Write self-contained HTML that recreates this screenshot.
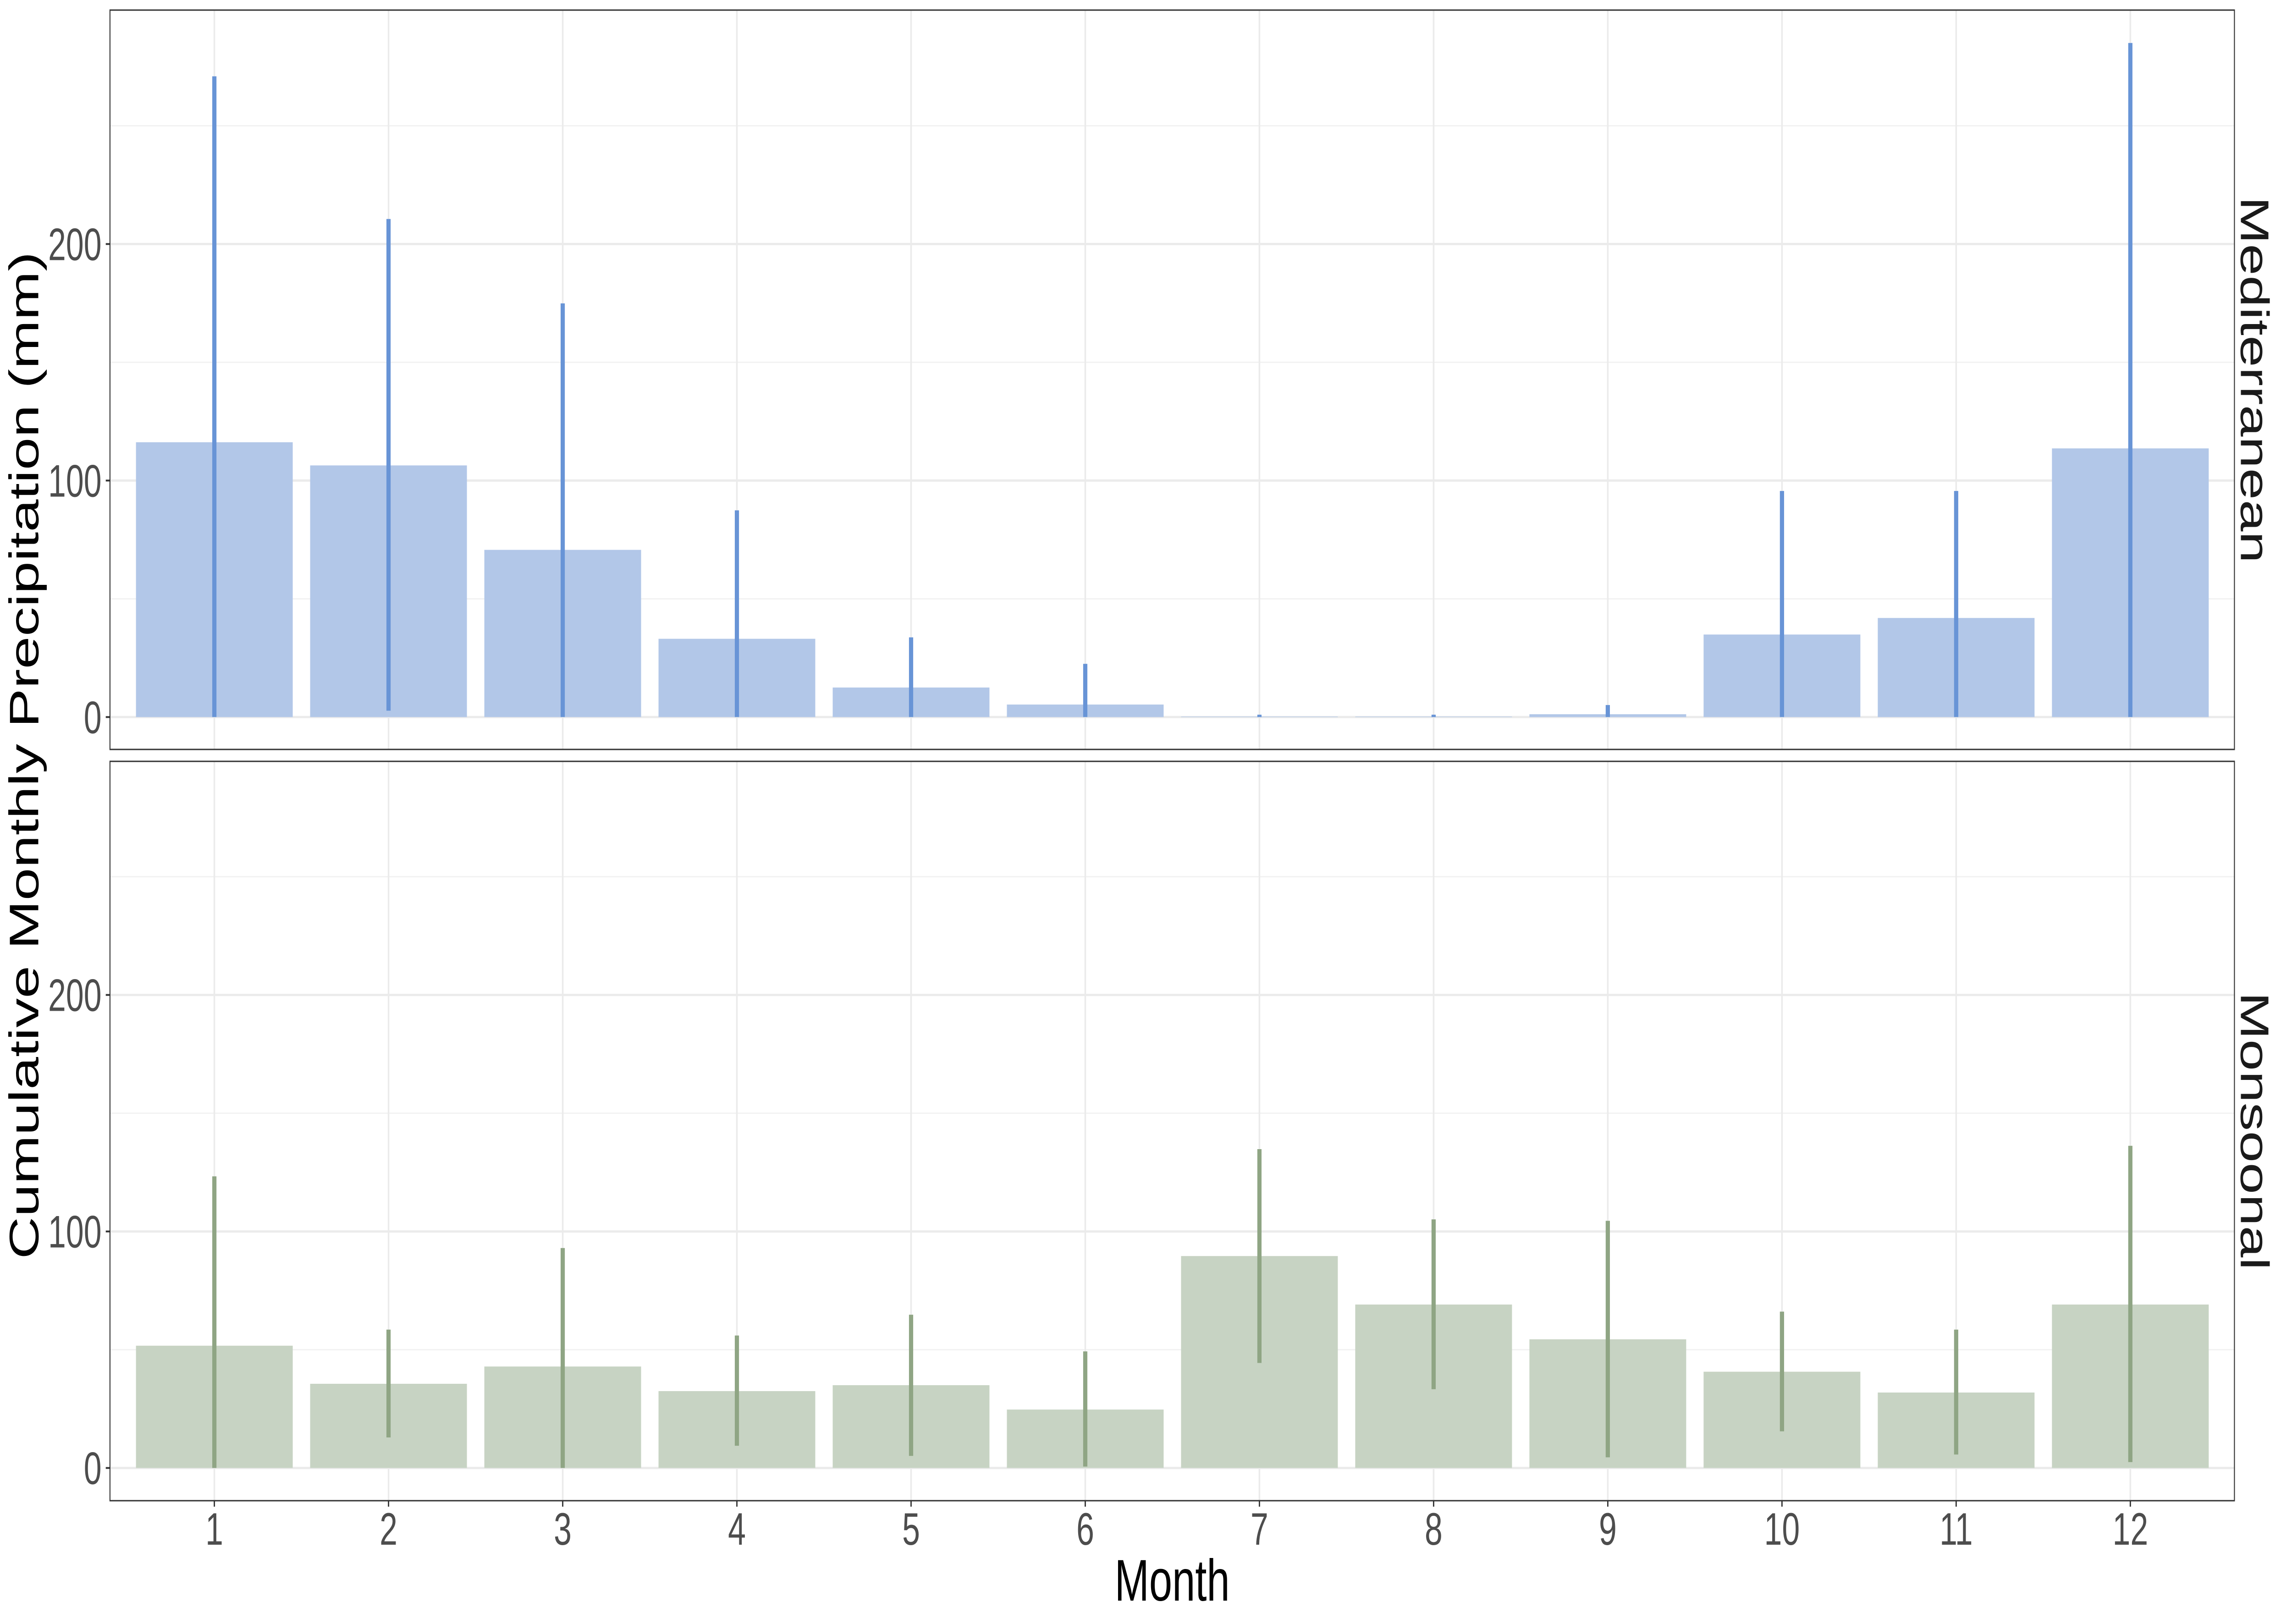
<!DOCTYPE html>
<html><head><meta charset="utf-8"><style>
html,body{margin:0;padding:0;background:#fff;overflow:hidden;width:100%;height:100%;}
svg{display:block;font-family:"Liberation Sans",Arial,sans-serif;width:100vw;height:100vh;}
</style></head><body>
<svg id="chart" viewBox="0 0 7086 3543" preserveAspectRatio="none" xmlns="http://www.w3.org/2000/svg">
<rect x="0" y="0" width="7086" height="3543" fill="#fff"/>
<g id="root"></g>
<text x="3624" y="3492" font-size="128" text-anchor="middle" fill="#000">Month</text>
<text transform="translate(118,1648) rotate(-90)" font-size="128" text-anchor="middle" fill="#000">Cumulative Monthly Precipitation (mm)</text>
</svg>
<script>
const months = [1,2,3,4,5,6,7,8,9,10,11,12];
const medMean = [116.2,106.4,70.7,33.1,12.5,5.3,0.2,0.2,1.2,34.9,41.9,113.6];
const medLow  = [0,2.7,0,0,0,0,0,0,0,0,0,0];
const medHigh = [270.9,210.6,174.9,87.4,33.7,22.5,1,1,5.1,95.6,95.6,285];
const monMean = [51.7,35.6,42.9,32.5,35.0,24.7,89.6,69.1,54.4,40.7,31.9,69.1];
const monLow  = [0,12.9,0,9.4,5.1,0.6,44.4,33.3,4.5,15.5,5.7,2.5];
const monHigh = [123.3,58.5,93,56,64.8,49.3,134.8,105.1,104.5,66.1,58.5,136.2];
const yTicks = [0,100,200];
const yMinor = [50,150,250];
const panelNames = ["Mediterranean","Monsoonal"];

const NS="http://www.w3.org/2000/svg";
const root=document.getElementById('root');
function mk(tag,attrs,parent){const e=document.createElementNS(NS,tag);for(const k in attrs)e.setAttribute(k,attrs[k]);(parent||root).appendChild(e);return e;}
const X0=340, X1=6908, step=538.5, c1=662.7;
function xs(m){return c1+(m-1)*step;}
const PX=5.16;
const panels=[
 {top:22,bot:1635,zero:1564.4,mean:medMean,low:medLow,high:medHigh,fill:"#b2c7e8",err:"#6894d6",name:panelNames[0]},
 {top:1661,bot:3274,zero:3202.6,mean:monMean,low:monLow,high:monHigh,fill:"#c7d3c3",err:"#8fa584",name:panelNames[1]}
];
panels.forEach((p,pi)=>{
  const ys=v=>p.zero-v*PX;
  const g=mk('g',{});
  
  
  yMinor.forEach(v=>{const l=mk('line',{x1:X0,x2:X1,y1:ys(v),y2:ys(v),stroke:'#f2f2f2','stroke-width':3},g);
    
    });
  yTicks.forEach(v=>{const l=mk('line',{x1:X0,x2:X1,y1:ys(v),y2:ys(v),stroke:'#ebebeb','stroke-width':5},g);
    
    });
  months.forEach(m=>{const l=mk('line',{x1:xs(m),x2:xs(m),y1:p.top,y2:p.bot,stroke:'#ebebeb','stroke-width':5},g);
    
    });
  months.forEach((m,i)=>{
    const w=step*0.9;
    const r=mk('rect',{x:xs(m)-w/2,y:ys(p.mean[i]),width:w,height:p.mean[i]*PX,fill:p.fill},g);
    
    
  });
  months.forEach((m,i)=>{
    const l=mk('line',{x1:xs(m),x2:xs(m),y1:ys(p.low[i]),y2:ys(p.high[i]),stroke:p.err,'stroke-width':13},g);
    
    
  });
  const b=mk('rect',{x:X0,y:p.top,width:X1-X0,height:p.bot-p.top,fill:'none',stroke:'#333','stroke-width':3},g);
  
  
  yTicks.forEach(v=>{
    const t=mk('line',{x1:327,x2:X0,y1:ys(v),y2:ys(v),stroke:'#333','stroke-width':4},g);
    
    
    const tx=mk('text',{x:314,y:ys(v)+35,'font-size':99,'text-anchor':'end',fill:'#4d4d4d'},g);
    tx.textContent=v;
    
    
  });
  const cy=(p.top+p.bot)/2;
  const s=mk('text',{transform:`translate(6928,${cy}) rotate(90)`,'font-size':124,'text-anchor':'middle',fill:'#1a1a1a'},g);
  s.textContent=p.name;
  
  
});
months.forEach(m=>{
  const t=mk('line',{x1:xs(m),x2:xs(m),y1:3274,y2:3287,stroke:'#333','stroke-width':4});
  
  
  const tx=mk('text',{x:xs(m),y:3370,'font-size':99,'text-anchor':'middle',fill:'#4d4d4d'});
  tx.textContent=m;
  
  
});
</script>
</body></html>
